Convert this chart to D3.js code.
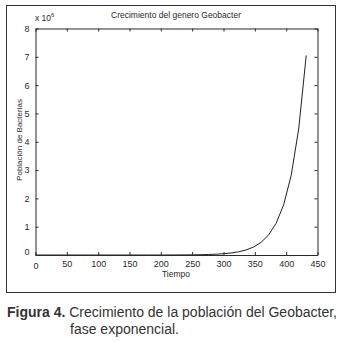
<!DOCTYPE html>
<html>
<head>
<meta charset="utf-8">
<script src="https://cdn.jsdelivr.net/npm/d3@7"></script>
<style>
  body { margin: 0; background: #fff; }
  svg { display: block; font-family: "Liberation Sans", Arial, sans-serif; }
</style>
</head>
<body>
<svg id="chart"></svg>
<script>
// tiempo (0..432, paso 12) y población en millones
const tiempo = [0, 12, 24, 36, 48, 60, 72, 84, 96, 108, 120, 132, 144, 156, 168, 180, 192, 204, 216,
  228, 240, 252, 264, 276, 288, 300, 312, 324, 336, 348, 360, 372, 384, 396, 408, 420, 432]
const poblacion = [0, 0, 0, 0, 0, 0, 0, 0, 0, 0, 0, 0, 0, 0.0001, 0.0002, 0.0004, 0.0007,
  0.0011, 0.0018, 0.0028, 0.0044, 0.007, 0.011, 0.018, 0.028, 0.045, 0.071, 0.113, 0.178,
  0.282, 0.447, 0.708, 1.121, 1.775, 2.81, 4.45, 7.05]
const xTicks = [0, 50, 100, 150, 200, 250, 300, 350, 400, 450]
const yTicks = [0, 1, 2, 3, 4, 5, 6, 7, 8]

const width = 342, height = 342
const svg = d3.select('#chart').attr('width', width).attr('height', height)

const plot = { left: 35.5, right: 317.5, top: 28.5, bottom: 255 }
const x = d3.scaleLinear().domain([0, 450]).range([plot.left, plot.right])
const y = d3.scaleLinear().domain([0, 8]).range([plot.bottom, plot.top])
const ink = '#2a2a2a'

// marco exterior de la figura
svg.append('rect')
  .attr('x', 6.5).attr('y', 5.5).attr('width', 329).attr('height', 287)
  .attr('fill', 'none').attr('stroke', '#333').attr('stroke-width', 1)

// curva
const line = d3.line().x((d, i) => x(tiempo[i])).y(d => y(d))
svg.append('path').datum(poblacion)
  .attr('d', line)
  .attr('fill', 'none')
  .attr('stroke', '#222')
  .attr('stroke-width', 1)

// ejes tipo MATLAB (ticks hacia dentro, en las cuatro caras)
const tl = -3
const axB = svg.append('g').attr('transform', `translate(0,${plot.bottom})`)
  .call(d3.axisBottom(x).tickValues(xTicks).tickSizeInner(tl).tickSizeOuter(0).tickPadding(6))
const axT = svg.append('g').attr('transform', `translate(0,${plot.top})`)
  .call(d3.axisTop(x).tickValues(xTicks).tickSizeInner(tl).tickSizeOuter(0).tickFormat(''))
const axL = svg.append('g').attr('transform', `translate(${plot.left},0)`)
  .call(d3.axisLeft(y).tickValues(yTicks).tickSizeInner(tl).tickSizeOuter(0).tickPadding(6))
const axR = svg.append('g').attr('transform', `translate(${plot.right},0)`)
  .call(d3.axisRight(y).tickValues(yTicks).tickSizeInner(tl).tickSizeOuter(0).tickFormat(''))

;[axB, axT, axL, axR].forEach(g => {
  g.select('.domain').attr('stroke', ink)
  g.selectAll('.tick line').attr('stroke', ink)
  g.selectAll('.tick text')
    .attr('fill', ink)
    .attr('font-size', '9px')
    .attr('font-family', '"Liberation Sans", Arial, sans-serif')
})
axL.selectAll('.tick text').filter(d => d === 0).attr('dy', '-0.1em')
axB.selectAll('.tick text').filter(d => d === 0).attr('dy', '0.9em')

// título y etiquetas
svg.append('text')
  .attr('x', 176).attr('y', 18)
  .attr('text-anchor', 'middle')
  .attr('font-size', '8.5px').attr('fill', ink)
  .text('Crecimiento del genero Geobacter')

svg.append('text')
  .attr('x', 176).attr('y', 277)
  .attr('text-anchor', 'middle')
  .attr('font-size', '8.5px').attr('fill', ink)
  .text('Tiempo')

svg.append('text')
  .attr('transform', 'translate(22,140) rotate(-90)')
  .attr('text-anchor', 'middle')
  .attr('font-size', '8px').attr('fill', ink)
  .text('Población de Bacterias')

const exp = svg.append('text')
  .attr('x', 35).attr('y', 21)
  .attr('font-size', '8.5px').attr('fill', ink)
exp.append('tspan').text('x 10')
exp.append('tspan').attr('font-size', '6px').attr('dy', '-4').text('6')

// pie de figura
const cap = svg.append('text')
  .attr('x', 7).attr('y', 317)
  .attr('font-size', '14px').attr('fill', '#333')
cap.append('tspan').attr('font-weight', 'bold').text('Figura 4.')
cap.append('tspan').text(' Crecimiento de la población del Geobacter,')
svg.append('text')
  .attr('x', 70).attr('y', 334)
  .attr('font-size', '14px').attr('fill', '#333')
  .text('fase exponencial.')
</script>
</body>
</html>
